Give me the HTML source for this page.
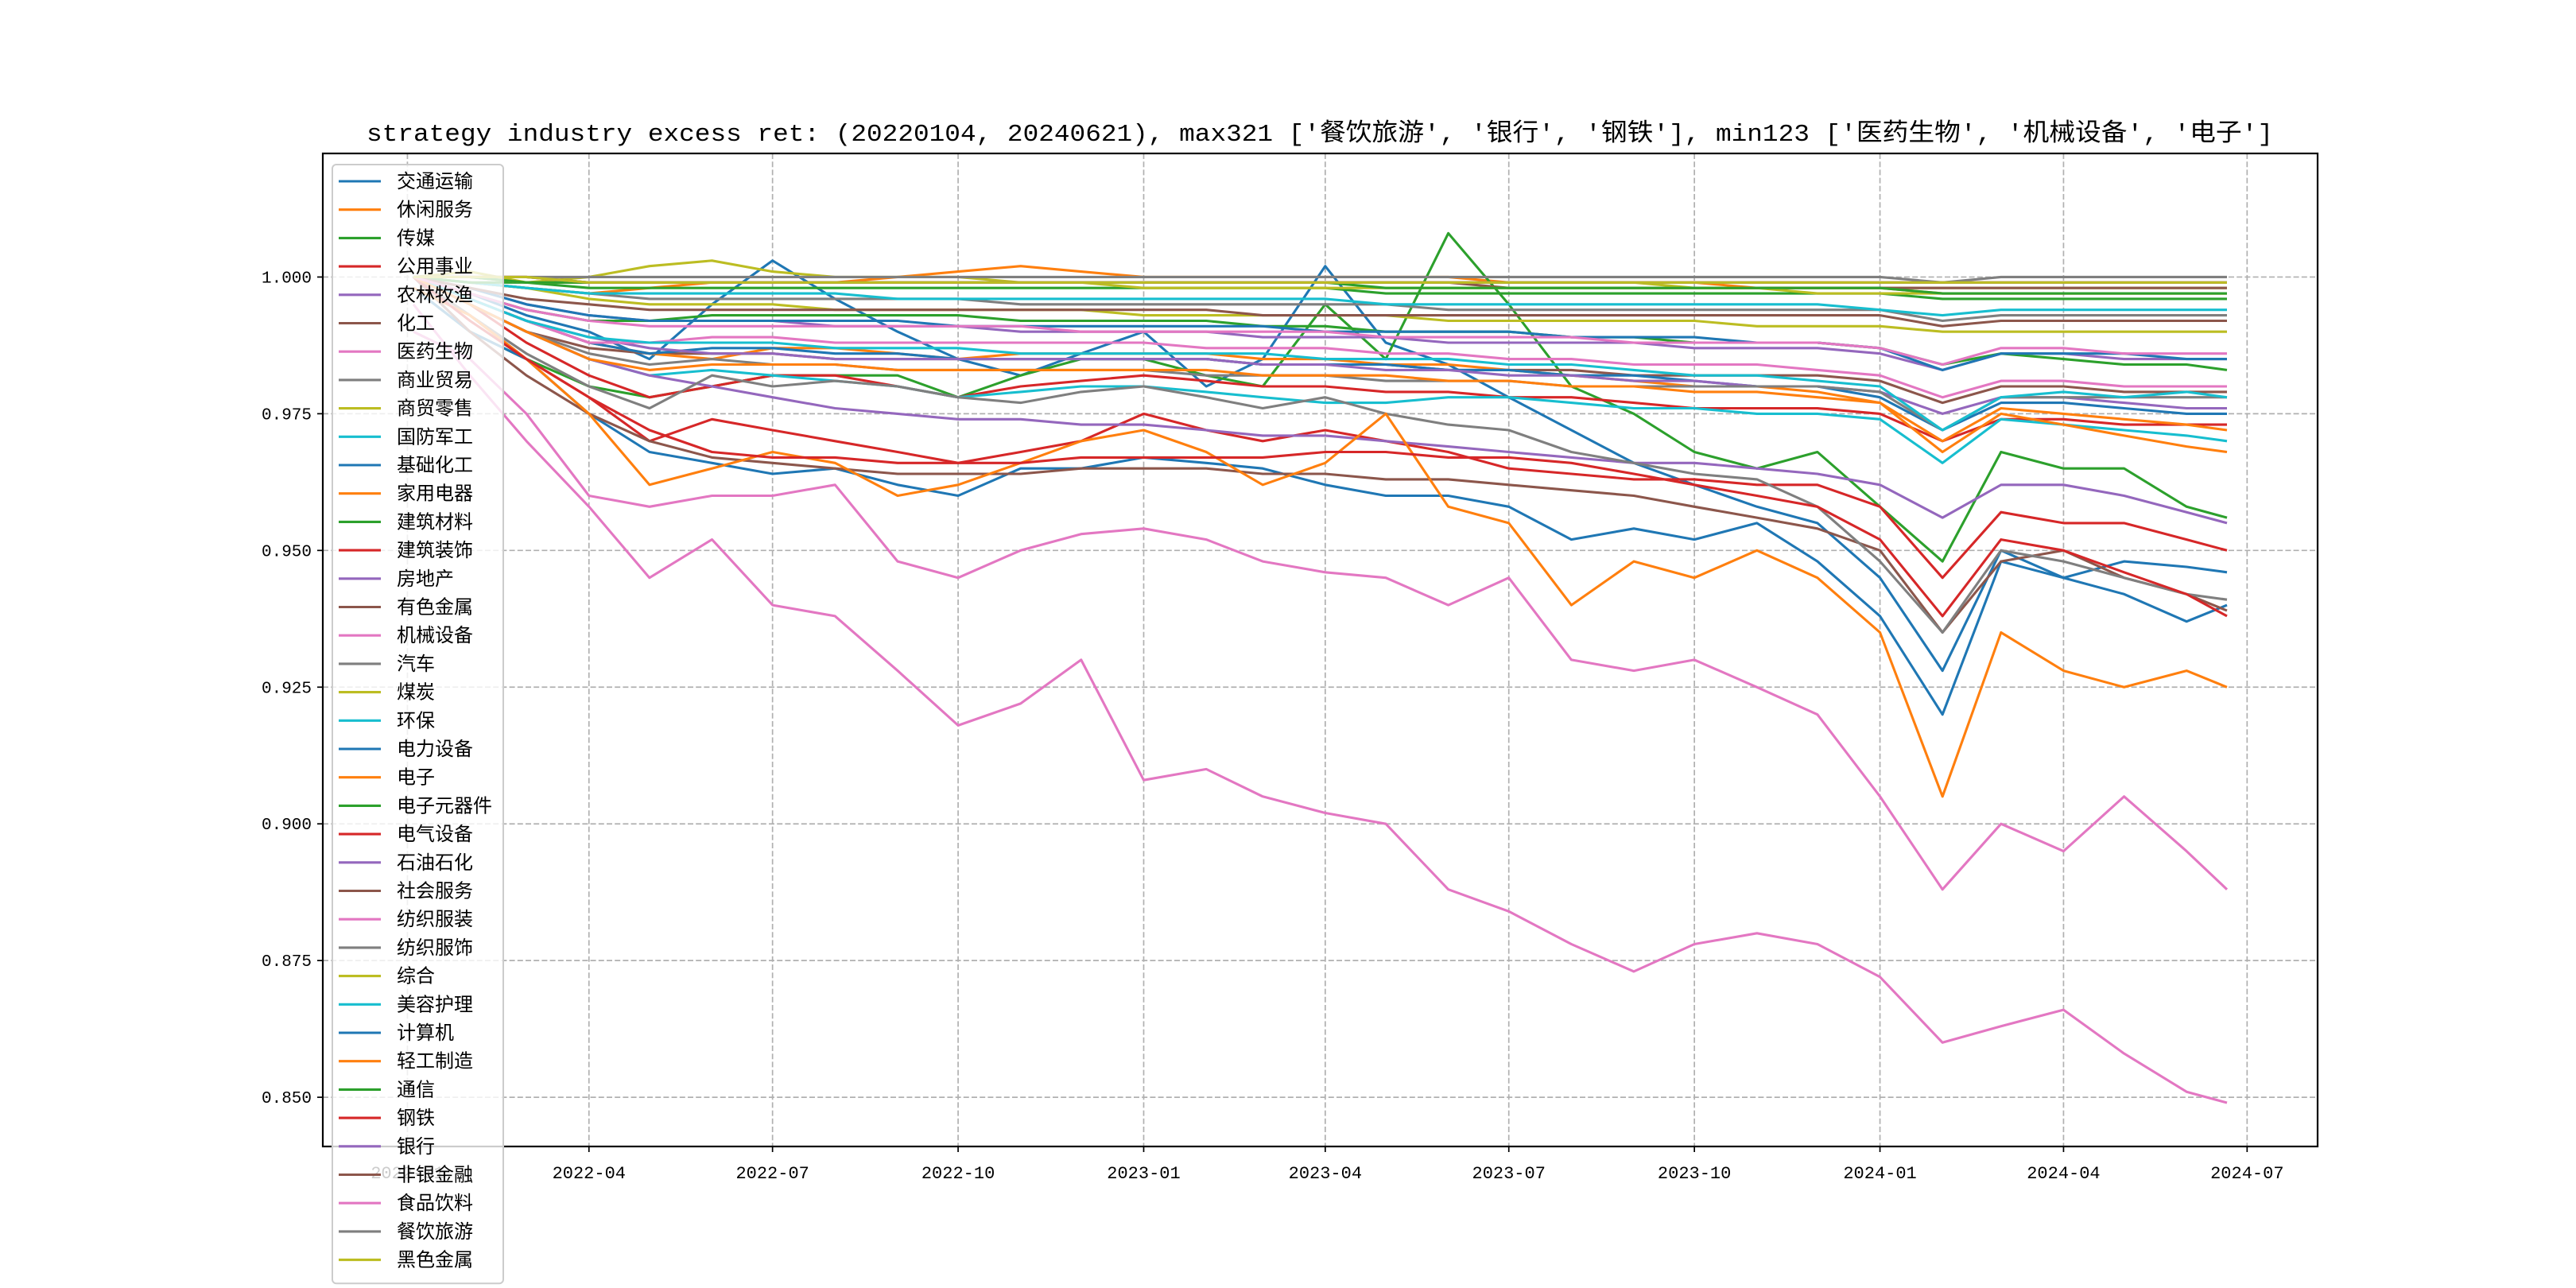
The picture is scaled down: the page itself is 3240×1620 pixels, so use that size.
<!DOCTYPE html>
<html><head><meta charset="utf-8"><style>
html,body{margin:0;padding:0;background:#fff;}
svg{display:block;}
text{font-family:"Liberation Mono","Noto Sans CJK SC",monospace;}
.leg{font-family:"Liberation Sans","Noto Sans CJK SC",sans-serif;font-size:24px;}
</style></head><body>
<svg id="chart" width="3240" height="1620" xmlns="http://www.w3.org/2000/svg">
<rect width="3240" height="1620" fill="#fff"/>
<g id="grid"></g>
<g id="series"></g>
<rect x="406" y="193" width="2509" height="1249" fill="none" stroke="#000" stroke-width="2.2"/>
<g id="axes"></g>
<text id="title" x="1660" y="177" text-anchor="middle" font-size="31" textLength="2398" lengthAdjust="spacingAndGlyphs">strategy industry excess ret: (20220104, 20240621), max321 ['餐饮旅游', '银行', '钢铁'], min123 ['医药生物', '机械设备', '电子']</text>
<g id="legend"></g>
</svg>
<script>
const dates = ["2022-01-04","2022-02-01","2022-03-01","2022-04-01","2022-05-01","2022-06-01","2022-07-01","2022-08-01","2022-09-01","2022-10-01","2022-11-01","2022-12-01","2023-01-01","2023-02-01","2023-03-01","2023-04-01","2023-05-01","2023-06-01","2023-07-01","2023-08-01","2023-09-01","2023-10-01","2023-11-01","2023-12-01","2024-01-01","2024-02-01","2024-03-01","2024-04-01","2024-05-01","2024-06-01","2024-06-21"];
const names = ["交通运输","休闲服务","传媒","公用事业","农林牧渔","化工","医药生物","商业贸易","商贸零售","国防军工","基础化工","家用电器","建筑材料","建筑装饰","房地产","有色金属","机械设备","汽车","煤炭","环保","电力设备","电子","电子元器件","电气设备","石油石化","社会服务","纺织服装","纺织服饰","综合","美容护理","计算机","轻工制造","通信","钢铁","银行","非银金融","食品饮料","餐饮旅游","黑色金属"];
const yTicks = [0.850,0.875,0.900,0.925,0.950,0.975,1.000];
const yTickLabels = ["0.850","0.875","0.900","0.925","0.950","0.975","1.000"];
const xTicks = ["2022-01-01","2022-04-01","2022-07-01","2022-10-01","2023-01-01","2023-04-01","2023-07-01","2023-10-01","2024-01-01","2024-04-01","2024-07-01"];
const xTickLabels = ["2022-01","2022-04","2022-07","2022-10","2023-01","2023-04","2023-07","2023-10","2024-01","2024-04","2024-07"];

const s_jiaotong = [1.000,0.997,0.993,0.990,0.985,0.995,1.003,0.996,0.990,0.985,0.982,0.986,0.990,0.980,0.985,1.002,0.988,0.984,0.978,0.972,0.966,0.962,0.958,0.955,0.945,0.928,0.950,0.945,0.942,0.937,0.940];
const s_xiuxian = [1.000,0.999,0.998,0.997,0.998,0.999,0.999,0.999,1.000,1.001,1.002,1.001,1.000,1.000,1.000,1.000,1.000,1.000,0.999,0.999,0.999,0.999,0.998,0.998,0.998,0.997,0.997,0.997,0.997,0.997,0.997];
const s_chuanmei = [0.998,0.990,0.985,0.980,0.978,0.980,0.982,0.982,0.982,0.978,0.982,0.985,0.985,0.982,0.980,0.995,0.985,1.008,0.995,0.980,0.975,0.968,0.965,0.968,0.958,0.948,0.968,0.965,0.965,0.958,0.956];
const s_gongyong = [1.000,0.995,0.988,0.982,0.978,0.980,0.982,0.982,0.980,0.978,0.980,0.981,0.982,0.981,0.980,0.980,0.979,0.979,0.978,0.978,0.977,0.976,0.976,0.976,0.975,0.970,0.974,0.974,0.973,0.973,0.973];
const s_nonglin = [1.000,0.998,0.995,0.993,0.992,0.992,0.992,0.991,0.991,0.991,0.990,0.990,0.990,0.990,0.989,0.989,0.989,0.988,0.988,0.988,0.988,0.987,0.987,0.987,0.986,0.983,0.986,0.986,0.985,0.985,0.985];
const s_huagong = [1.000,0.995,0.990,0.987,0.986,0.986,0.986,0.985,0.985,0.985,0.985,0.985,0.985,0.985,0.984,0.984,0.984,0.983,0.983,0.983,0.982,0.982,0.982,0.982,0.981,0.977,0.980,0.980,0.979,0.979,0.979];
const s_yiyao = [0.995,0.982,0.970,0.958,0.945,0.952,0.940,0.938,0.928,0.918,0.922,0.930,0.908,0.910,0.905,0.902,0.900,0.888,0.884,0.878,0.873,0.878,0.880,0.878,0.872,0.860,0.863,0.866,0.858,0.851,0.849];
const s_shangye = [1.000,0.999,0.998,0.997,0.996,0.996,0.996,0.996,0.996,0.996,0.995,0.995,0.995,0.995,0.995,0.995,0.995,0.994,0.994,0.994,0.994,0.994,0.994,0.994,0.994,0.992,0.993,0.993,0.993,0.993,0.993];
const s_shangmao = [1.000,1.001,0.999,1.000,1.002,1.003,1.001,1.000,1.000,1.000,0.999,0.999,0.999,0.999,0.999,0.999,0.999,0.999,0.999,0.999,0.999,0.998,0.998,0.998,0.998,0.998,0.998,0.998,0.998,0.998,0.998];
const s_guofang = [1.000,0.995,0.990,0.985,0.982,0.983,0.982,0.981,0.980,0.978,0.979,0.980,0.980,0.979,0.978,0.977,0.977,0.978,0.978,0.977,0.976,0.976,0.975,0.975,0.974,0.966,0.974,0.973,0.972,0.971,0.970];
const s_jichu = [0.998,0.990,0.985,0.975,0.968,0.966,0.964,0.965,0.962,0.960,0.965,0.965,0.967,0.966,0.965,0.962,0.960,0.960,0.958,0.952,0.954,0.952,0.955,0.948,0.938,0.920,0.948,0.945,0.948,0.947,0.946];
const s_jiayong = [1.000,0.996,0.992,0.988,0.986,0.985,0.987,0.987,0.986,0.985,0.986,0.986,0.986,0.986,0.985,0.985,0.984,0.984,0.983,0.982,0.981,0.980,0.980,0.979,0.977,0.968,0.975,0.973,0.971,0.969,0.968];
const s_jiancai = [1.000,0.997,0.994,0.992,0.992,0.993,0.993,0.993,0.993,0.993,0.992,0.992,0.992,0.992,0.991,0.991,0.990,0.990,0.990,0.989,0.989,0.988,0.988,0.988,0.987,0.984,0.986,0.985,0.984,0.984,0.983];
const s_jianzhu = [1.000,0.993,0.985,0.978,0.970,0.974,0.972,0.970,0.968,0.966,0.968,0.970,0.975,0.972,0.970,0.972,0.970,0.968,0.965,0.964,0.963,0.963,0.962,0.962,0.958,0.945,0.957,0.955,0.955,0.952,0.950];
const s_fangdichan = [1.000,0.995,0.990,0.985,0.982,0.980,0.978,0.976,0.975,0.974,0.974,0.973,0.973,0.972,0.971,0.971,0.970,0.969,0.968,0.967,0.966,0.966,0.965,0.964,0.962,0.956,0.962,0.962,0.960,0.957,0.955];
const s_youse = [1.000,0.990,0.982,0.975,0.970,0.967,0.966,0.965,0.964,0.964,0.964,0.965,0.965,0.965,0.964,0.964,0.963,0.963,0.962,0.961,0.960,0.958,0.956,0.954,0.950,0.935,0.948,0.950,0.945,0.942,0.939];
const s_jixie = [0.990,0.985,0.975,0.960,0.958,0.960,0.960,0.962,0.948,0.945,0.950,0.953,0.954,0.952,0.948,0.946,0.945,0.940,0.945,0.930,0.928,0.930,0.925,0.920,0.905,0.888,0.900,0.895,0.905,0.895,0.888];
const s_qiche = [1.000,0.993,0.986,0.980,0.976,0.982,0.980,0.981,0.980,0.978,0.977,0.979,0.980,0.978,0.976,0.978,0.975,0.973,0.972,0.968,0.966,0.964,0.963,0.958,0.948,0.935,0.950,0.948,0.945,0.942,0.941];
const s_meitan = [1.000,0.999,0.998,0.996,0.995,0.995,0.995,0.994,0.994,0.994,0.994,0.994,0.993,0.993,0.993,0.993,0.993,0.992,0.992,0.992,0.992,0.992,0.991,0.991,0.991,0.990,0.990,0.990,0.990,0.990,0.990];
const s_huanbao = [1.000,0.999,0.998,0.997,0.997,0.997,0.997,0.997,0.996,0.996,0.996,0.996,0.996,0.996,0.996,0.996,0.995,0.995,0.995,0.995,0.995,0.995,0.995,0.995,0.994,0.993,0.994,0.994,0.994,0.994,0.994];
const s_dianli = [1.000,0.996,0.992,0.988,0.986,0.987,0.987,0.986,0.986,0.985,0.985,0.985,0.985,0.985,0.984,0.984,0.984,0.983,0.983,0.982,0.982,0.981,0.980,0.980,0.978,0.972,0.977,0.977,0.976,0.975,0.975];
const s_dianzi = [0.998,0.993,0.985,0.975,0.962,0.965,0.968,0.966,0.960,0.962,0.966,0.970,0.972,0.968,0.962,0.966,0.975,0.958,0.955,0.940,0.948,0.945,0.950,0.945,0.935,0.905,0.935,0.928,0.925,0.928,0.925];
const s_yuanqijian = [1.000,0.999,0.999,0.998,0.998,0.998,0.998,0.998,0.998,0.998,0.998,0.998,0.998,0.998,0.998,0.998,0.997,0.997,0.997,0.997,0.997,0.997,0.997,0.997,0.997,0.996,0.996,0.996,0.996,0.996,0.996];
const s_dianqi = [1.000,0.992,0.985,0.978,0.972,0.968,0.967,0.967,0.966,0.966,0.966,0.967,0.967,0.967,0.967,0.968,0.968,0.967,0.967,0.966,0.964,0.962,0.960,0.958,0.952,0.938,0.952,0.950,0.946,0.942,0.938];
const s_shiyou = [1.000,0.996,0.992,0.989,0.987,0.986,0.986,0.985,0.985,0.985,0.985,0.985,0.985,0.985,0.984,0.984,0.983,0.983,0.982,0.982,0.981,0.981,0.980,0.980,0.979,0.975,0.978,0.978,0.977,0.976,0.976];
const s_shehui = [1.000,1.000,0.999,0.999,0.999,0.999,0.999,0.999,0.999,0.999,0.999,0.999,0.999,0.999,0.999,0.999,0.999,0.999,0.998,0.998,0.998,0.998,0.998,0.998,0.998,0.998,0.998,0.998,0.998,0.998,0.998];
const s_fangzhi = [1.000,0.996,0.992,0.988,0.988,0.989,0.989,0.988,0.988,0.988,0.988,0.988,0.988,0.987,0.987,0.987,0.986,0.986,0.985,0.985,0.984,0.984,0.984,0.983,0.982,0.978,0.981,0.981,0.980,0.980,0.980];
const s_fangzhifs = [1.000,0.995,0.990,0.986,0.984,0.985,0.984,0.984,0.983,0.983,0.983,0.983,0.983,0.982,0.982,0.982,0.981,0.981,0.981,0.980,0.980,0.980,0.980,0.980,0.979,0.972,0.978,0.978,0.978,0.978,0.978];
const s_zonghe = [1.000,1.000,0.999,0.999,0.999,0.999,0.999,0.999,0.999,0.999,0.999,0.999,0.998,0.998,0.998,0.998,0.998,0.998,0.998,0.998,0.998,0.998,0.998,0.997,0.997,0.997,0.997,0.997,0.997,0.997,0.997];
const s_meirong = [1.000,0.996,0.992,0.989,0.988,0.988,0.988,0.987,0.987,0.987,0.986,0.986,0.986,0.986,0.986,0.985,0.985,0.985,0.984,0.984,0.983,0.982,0.982,0.981,0.980,0.972,0.978,0.979,0.978,0.979,0.978];
const s_jisuanji = [1.000,0.998,0.995,0.993,0.992,0.992,0.992,0.992,0.992,0.991,0.991,0.991,0.991,0.991,0.991,0.990,0.990,0.990,0.990,0.989,0.989,0.989,0.988,0.988,0.987,0.983,0.986,0.986,0.986,0.985,0.985];
const s_qinggong = [1.000,0.995,0.990,0.985,0.983,0.984,0.984,0.984,0.983,0.983,0.983,0.983,0.983,0.983,0.982,0.982,0.982,0.981,0.981,0.980,0.980,0.979,0.979,0.978,0.977,0.970,0.976,0.975,0.974,0.973,0.972];
const s_tongxin = [1.000,1.000,0.999,0.999,0.999,0.999,0.999,0.999,0.999,0.999,0.999,0.999,0.999,0.999,0.999,0.999,0.998,0.998,0.998,0.998,0.998,0.998,0.998,0.998,0.998,0.997,0.997,0.997,0.997,0.997,0.997];
const s_gangtie = [1.000,1.000,1.000,0.999,0.999,0.999,0.999,0.999,0.999,0.999,0.999,0.999,0.999,0.999,0.999,0.999,0.999,0.999,0.999,0.999,0.999,0.999,0.999,0.999,0.999,0.999,0.999,0.999,0.999,0.999,0.999];
const s_yinhang = [1.000,1.000,1.000,0.999,0.999,0.999,0.999,0.999,0.999,0.999,0.999,0.999,0.999,0.999,0.999,0.999,0.999,0.999,0.999,0.999,0.999,0.999,0.999,0.999,0.999,0.999,0.999,0.999,0.999,0.999,0.999];
const s_feiyin = [1.000,0.998,0.996,0.995,0.994,0.994,0.994,0.994,0.994,0.994,0.994,0.994,0.994,0.994,0.993,0.993,0.993,0.993,0.993,0.993,0.993,0.993,0.993,0.993,0.993,0.991,0.992,0.992,0.992,0.992,0.992];
const s_shipin = [1.000,0.997,0.994,0.992,0.991,0.991,0.991,0.991,0.991,0.991,0.991,0.990,0.990,0.990,0.990,0.990,0.989,0.989,0.989,0.989,0.988,0.988,0.988,0.988,0.987,0.984,0.987,0.987,0.986,0.986,0.986];
const s_canyin = [1.000,1.000,1.000,1.000,1.000,1.000,1.000,1.000,1.000,1.000,1.000,1.000,1.000,1.000,1.000,1.000,1.000,1.000,1.000,1.000,1.000,1.000,1.000,1.000,1.000,0.999,1.000,1.000,1.000,1.000,1.000];
const s_heise = [1.000,1.000,1.000,0.999,0.999,0.999,0.999,0.999,0.999,0.999,0.999,0.999,0.999,0.999,0.999,0.999,0.999,0.999,0.999,0.999,0.999,0.999,0.999,0.999,0.999,0.999,0.999,0.999,0.999,0.999,0.999];

const seriesValues = [s_jiaotong,s_xiuxian,s_chuanmei,s_gongyong,s_nonglin,s_huagong,s_yiyao,s_shangye,s_shangmao,s_guofang,s_jichu,s_jiayong,s_jiancai,s_jianzhu,s_fangdichan,s_youse,s_jixie,s_qiche,s_meitan,s_huanbao,s_dianli,s_dianzi,s_yuanqijian,s_dianqi,s_shiyou,s_shehui,s_fangzhi,s_fangzhifs,s_zonghe,s_meirong,s_jisuanji,s_qinggong,s_tongxin,s_gangtie,s_yinhang,s_feiyin,s_shipin,s_canyin,s_heise];
const palette = ["#1f77b4","#ff7f0e","#2ca02c","#d62728","#9467bd","#8c564b","#e377c2","#7f7f7f","#bcbd22","#17becf"];

const NS = "http://www.w3.org/2000/svg";
const PL=406, PR=2915, PT=193, PB=1442;
const t0 = Date.parse(dates[0]), t1 = Date.parse(dates[dates.length-1]);
const span = t1-t0;
const xmin = t0-0.05*span, xmax = t1+0.05*span;
const ymin = 0.8410, ymax = 1.0226;
function xScale(d){ return PL + (Date.parse(d)-xmin)/(xmax-xmin)*(PR-PL); }
function yScale(v){ return PB - (v-ymin)/(ymax-ymin)*(PB-PT); }
function mk(tag, attrs){ const e=document.createElementNS(NS,tag); for(const k in attrs) e.setAttribute(k, attrs[k]); return e; }

const grid=document.getElementById('grid'), axes=document.getElementById('axes');
yTicks.forEach((v,i)=>{
  const y=yScale(v);
  const g=mk('line',{x1:PL,x2:PR,y1:y,y2:y,stroke:'#b0b0b0','stroke-width':1.7,'stroke-dasharray':'7,3.2'});
  
  
  grid.appendChild(g);
  const tk=mk('line',{x1:PL-7,x2:PL,y1:y,y2:y,stroke:'#000','stroke-width':1.7});
  
  
  axes.appendChild(tk);
  const t=mk('text',{x:PL-14,y:y+7,'text-anchor':'end','font-size':21});
  t.textContent=yTickLabels[i];
  
  
  axes.appendChild(t);
});
xTicks.forEach((d,i)=>{
  const x=xScale(d);
  const g=mk('line',{x1:x,x2:x,y1:PT,y2:PB,stroke:'#b0b0b0','stroke-width':1.7,'stroke-dasharray':'7,3.2'});
  
  
  grid.appendChild(g);
  const tk=mk('line',{x1:x,x2:x,y1:PB,y2:PB+7,stroke:'#000','stroke-width':1.7});
  
  
  axes.appendChild(tk);
  const t=mk('text',{x:x,y:PB+40,'text-anchor':'middle','font-size':22});
  t.textContent=xTickLabels[i];
  
  
  axes.appendChild(t);
});

const sg=document.getElementById('series');
seriesValues.forEach((vals,i)=>{
  const pts=vals.map((v,j)=>xScale(dates[j]).toFixed(1)+','+yScale(v).toFixed(1)).join(' ');
  const pl=mk('polyline',{points:pts,fill:'none',stroke:palette[i%10],'stroke-width':3.1,'stroke-linejoin':'round'});
  
  
  sg.appendChild(pl);
});

const lg=document.getElementById('legend');
const LX=418, LY=207, LS=35.7;
const box=mk('rect',{x:LX,y:LY,width:215,height:LS*names.length+15,rx:5,fill:'#fff','fill-opacity':0.8,stroke:'#cccccc','stroke-width':2});


lg.appendChild(box);
names.forEach((n,i)=>{
  const y=LY+21+i*LS;
  const l=mk('line',{x1:426,x2:479,y1:y,y2:y,stroke:palette[i%10],'stroke-width':3.1});
  
  
  lg.appendChild(l);
  const t=mk('text',{x:499,y:y+8,'class':'leg'});
  t.textContent=n;
  
  
  lg.appendChild(t);
});
</script>
</body></html>
